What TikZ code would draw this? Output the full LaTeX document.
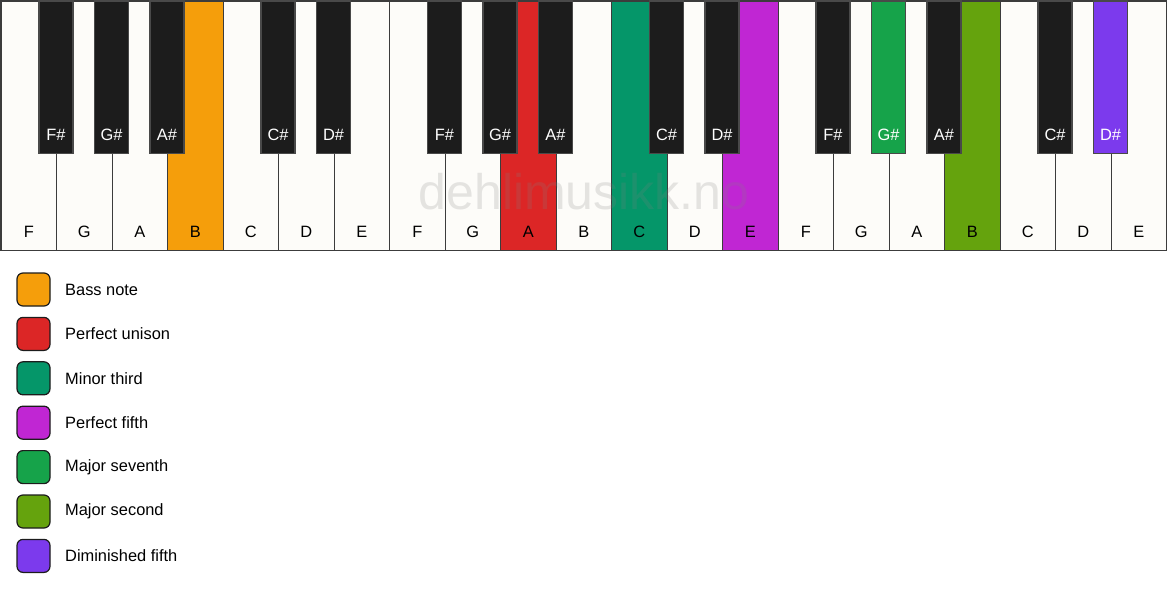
\documentclass[tikz,border=0pt]{standalone}
\usepackage{fontspec}
\setmainfont{Liberation Sans}
\usepackage{xcolor}
\definecolor{ivory}{RGB}{253,252,249}
\definecolor{keyblack}{RGB}{28,28,28}
\definecolor{keyedge}{RGB}{60,60,60}
\definecolor{bassorange}{RGB}{245,158,11}
\definecolor{unisonred}{RGB}{220,38,38}
\definecolor{thirdteal}{RGB}{5,150,105}
\definecolor{fifthpink}{RGB}{192,38,211}
\definecolor{seventhgreen}{RGB}{22,163,74}
\definecolor{secondlime}{RGB}{101,163,13}
\definecolor{dimviolet}{RGB}{124,58,237}

\begin{document}
\begin{tikzpicture}[x=1pt,y=-1pt,
    whitekey/.style={rectangle,draw=keyedge,line width=1.2pt,inner sep=0pt,
      minimum width=55.5pt,minimum height=249pt,anchor=north west},
    blackkey/.style={rectangle,draw=keyblack!80!white,line width=1.2pt,inner sep=0pt,
      minimum width=34pt,minimum height=152pt,anchor=north},
    keylabel/.style={font=\fontsize{16.4}{16.4}\selectfont,inner sep=0pt},
    swatch/.style={rectangle,rounded corners=6pt,draw=keyblack,line width=1.2pt,
      minimum size=33pt,inner sep=0pt},
    legendtext/.style={font=\fontsize{16.4}{16.4}\selectfont,anchor=west,inner sep=0pt}]
  \useasboundingbox (0,0) rectangle (1167,594);
  % white keys
  \foreach \n/\c [count=\i from 0] in {F/ivory,G/ivory,A/ivory,B/bassorange,C/ivory,D/ivory,E/ivory,
      F/ivory,G/ivory,A/unisonred,B/ivory,C/thirdteal,D/ivory,E/fifthpink,
      F/ivory,G/ivory,A/ivory,B/secondlime,C/ivory,D/ivory,E/ivory} {
    \node[whitekey,fill=\c] (wk\i) at (0.5+55.5*\i,0.5) {};
    \node[keylabel] (wl\i) at ([yshift=19pt]wk\i.south) {\n};
  }
  % watermark
  \node[text=gray,opacity=0.2,font=\fontsize{50}{50}\selectfont] (wmark) at (584,192) {dehlimusikk.no};
  % black keys
  \foreach \k/\n/\c/\t in {1/F\#/keyblack/white,2/G\#/keyblack/white,3/A\#/keyblack/white,
      5/C\#/keyblack/white,6/D\#/keyblack/white,
      8/F\#/keyblack/white,9/G\#/keyblack/white,10/A\#/keyblack/white,
      12/C\#/keyblack/white,13/D\#/keyblack/white,
      15/F\#/keyblack/white,16/G\#/seventhgreen/white,17/A\#/keyblack/white,
      19/C\#/keyblack/white,20/D\#/dimviolet/white} {
    \node[blackkey,fill=\c] (bk\k) at (0.5+55.5*\k,0.5) {};
    \node[keylabel,text=\t] (bl\k) at ([yshift=19pt]bk\k.south) {\n};
  }
  % legend
  \foreach \c/\txt [count=\j from 0] in {bassorange/Bass note,unisonred/Perfect unison,
      thirdteal/Minor third,fifthpink/Perfect fifth,seventhgreen/Major seventh,
      secondlime/Major second,dimviolet/Diminished fifth} {
    \node[swatch,fill=\c] (sw\j) at (33.5,289.5+44.4*\j) {};
    \node[legendtext] (lt\j) at (65,289.5+44.4*\j) {\txt};
  }
\end{tikzpicture}
\end{document}
